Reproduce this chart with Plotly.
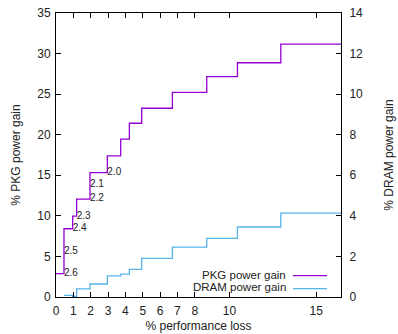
import plotly.graph_objects as go

# Data
perf_loss = [0, 0.46, 0.96, 1.19, 1.96, 2.96, 3.73, 4.23, 4.94, 6.71, 8.69, 10.46, 12.96, 16.43]
pkg_gain = [2.88, 8.41, 9.97, 12.06, 15.34, 17.39, 19.45, 21.41, 23.26, 25.23, 27.15, 28.87, 31.17, 31.17]

dram_loss = [0.46, 0.96, 1.19, 1.96, 2.96, 3.73, 4.23, 4.94, 6.71, 8.69, 10.46, 12.96, 16.43]
dram_gain = [0.08, 0.03, 0.40, 0.64, 1.04, 1.13, 1.36, 1.90, 2.46, 2.89, 3.45, 4.13, 4.13]

freq_labels = ["2.6", "2.5", "2.4", "2.3", "2.2", "2.1", "2.0"]
freq_x = [0.46, 0.46, 0.96, 1.19, 1.96, 1.96, 2.96]
freq_y = [2.88, 5.6, 8.4, 9.9, 12.1, 13.9, 15.4]

x_ticks = [0, 1, 2, 3, 4, 5, 6, 7, 8, 10, 15]

PURPLE = "#9400D3"
BLUE = "#56B4E9"
FONT = "Liberation Sans, Arial, sans-serif"

fig = go.Figure()
fig.add_trace(go.Scatter(x=perf_loss, y=pkg_gain, mode="lines", line_shape="hv",
                         line=dict(color=PURPLE, width=1.3), name="PKG power gain",
                         showlegend=False))
fig.add_trace(go.Scatter(x=dram_loss, y=dram_gain, mode="lines", line_shape="hv",
                         line=dict(color=BLUE, width=1.3), name="DRAM power gain",
                         yaxis="y2", showlegend=False))
fig.add_trace(go.Scatter(x=freq_x, y=freq_y, mode="text", text=freq_labels,
                         textposition="middle right",
                         textfont=dict(family=FONT, size=10, color="#222222"),
                         showlegend=False))

axis_common = dict(showline=True, linecolor="black", linewidth=1, ticks="inside",
                   ticklen=5, tickcolor="black", showgrid=False, zeroline=False,
                   automargin=False,
                   tickfont=dict(family=FONT, size=12, color="#222222"))

fig.update_layout(
    width=398, height=334,
    margin=dict(l=56, r=57, t=13, b=37),
    plot_bgcolor="white", paper_bgcolor="white",
    font=dict(family=FONT, size=12, color="#222222"),
    xaxis=dict(range=[0, 16.43], tickvals=x_ticks, mirror="ticks",
               title=dict(text="% performance loss", standoff=4,
                          font=dict(family=FONT, size=12)),
               ticklabelstandoff=3, **axis_common),
    yaxis=dict(range=[0, 35], dtick=5, mirror=True,
               title=dict(text="% PKG power gain", standoff=14,
                          font=dict(family=FONT, size=12)),
               ticklabelstandoff=2, **axis_common),
    yaxis2=dict(range=[0, 14], dtick=2, overlaying="y", side="right",
                title=dict(text="% DRAM power gain", standoff=22,
                           font=dict(family=FONT, size=12)),
                ticklabelstandoff=5, **axis_common),
)

# Legend drawn inside bottom-right (text left of sample line, as in reference)
legend_items = [("PKG power gain", PURPLE, 0.0792), ("DRAM power gain", BLUE, 0.0335)]
for label, color, yy in legend_items:
    fig.add_annotation(x=0.8105, y=yy, xref="paper", yref="paper", text=label,
                       showarrow=False, xanchor="right", yanchor="middle", borderpad=0,
                       font=dict(family=FONT, size=11.5, color="#222222"))
    fig.add_shape(type="line", xref="paper", yref="paper", x0=0.8316, x1=0.951,
                  y0=yy - 0.004, y1=yy - 0.004, line=dict(color=color, width=1.3))

fig.write_html("out.html")
